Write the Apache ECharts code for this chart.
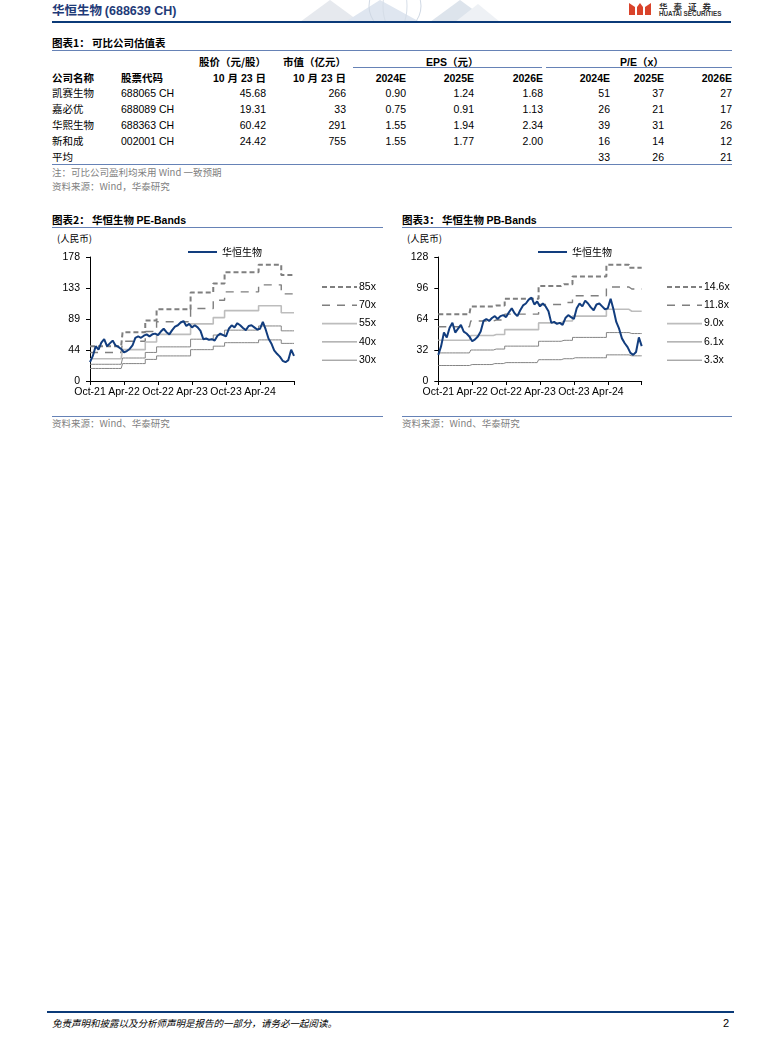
<!DOCTYPE html>
<html><head><meta charset="utf-8">
<script src="https://cdn.jsdelivr.net/npm/echarts@6/dist/echarts.min.js"></script>
<style>
html,body{margin:0;padding:0;background:#fff;}
#page{position:relative;width:784px;height:1060px;overflow:hidden;font-family:"Liberation Sans",Arial,"Noto Sans CJK SC",sans-serif;color:#000;}
.t{position:absolute;white-space:nowrap;line-height:14px;font-size:10.5px;}
.cn{font-family:"Noto Sans CJK SC","Liberation Sans",sans-serif;}
.b{font-weight:bold;}
.gray{color:#7f7f7f;}
.hl{position:absolute;background:#6682b6;height:1px;}
.chart{position:absolute;width:345px;height:185px;}
</style></head>
<body><div id="page">
<svg style="position:absolute;left:0;top:0" width="784" height="22">
  <polygon points="300,22 330,0 360,22" fill="#e6e9ee"/>
  <polygon points="345,22 380,0 420,22" fill="#dfe6f0"/>
  <circle cx="395" cy="6" r="26" fill="none" stroke="#cfd8e4" stroke-width="1"/>
  <ellipse cx="395" cy="6" rx="12" ry="26" fill="none" stroke="#d6dee8" stroke-width="1"/>
  <polygon points="430,22 460,0 490,22" fill="#dde4ec"/>
  <polygon points="455,22 478,4 500,22" fill="#eef1f5"/>
  <g fill="#d9432b">
    <polygon points="629,3 635,7 635,15 629,15"/>
    <polygon points="637,7 640,3 643,7 643,15 637,15"/>
    <polygon points="645,7 651,3 651,15 645,15"/>
  </g>
</svg>
<div class="t cn b" style="left:52px;top:3px;font-size:12.5px;color:#1f3b78;">华恒生物 <span style="font-family:'Liberation Sans',Arial">(688639 CH)</span></div>
<div class="t cn b" style="left:659px;top:1px;font-size:8.5px;line-height:10px;color:#333;letter-spacing:6px;">华泰证券</div>
<div class="t b" style="left:659px;top:11px;font-size:6.3px;line-height:6.5px;color:#333;">HUATAI SECURITIES</div>
<div style="position:absolute;left:52px;top:20.5px;width:679px;height:2.5px;background:#0b3a78;"></div>

<div id="table"></div>

<div class="t cn b" style="left:52px;top:213px;">图表2： 华恒生物 <span style="font-family:'Liberation Sans',Arial">PE-Bands</span></div>
<div class="hl" style="left:52px;top:227px;width:331px;"></div>
<div class="t cn" style="left:57px;top:231px;font-size:9.5px;">(人民币)</div>
<div id="c1" class="chart" style="left:45px;top:230px;"></div>
<div class="hl" style="left:52px;top:416px;width:331px;"></div>
<div class="t cn gray" style="left:52px;top:416px;font-size:9.5px;">资料来源：Wind、华泰研究</div>

<div class="t cn b" style="left:402px;top:213px;">图表3： 华恒生物 <span style="font-family:'Liberation Sans',Arial">PB-Bands</span></div>
<div class="hl" style="left:402px;top:227px;width:330px;"></div>
<div class="t cn" style="left:407px;top:231px;font-size:9.5px;">(人民币)</div>
<div id="c2" class="chart" style="left:395px;top:230px;"></div>
<div class="hl" style="left:402px;top:416px;width:330px;"></div>
<div class="t cn gray" style="left:402px;top:416px;font-size:9.5px;">资料来源：Wind、华泰研究</div>

<div style="position:absolute;left:47px;top:1010.5px;width:687px;height:2.5px;background:#0b3a78;"></div>
<div class="t cn" style="left:52px;top:1016px;font-size:9.5px;font-style:italic;">免责声明和披露以及分析师声明是报告的一部分，请务必一起阅读。</div>
<div class="t" style="left:723px;top:1016px;font-size:11px;">2</div>
</div>
<script>
// ---------- Table data ----------
const companies = ['凯赛生物','嘉必优','华熙生物','新和成'];
const codes = ['688065 CH','688089 CH','688363 CH','002001 CH'];
const prices = ['45.68','19.31','60.42','24.42'];
const mcaps = ['266','33','291','755'];
const eps2024 = ['0.90','0.75','1.55','1.55'];
const eps2025 = ['1.24','0.91','1.94','1.77'];
const eps2026 = ['1.68','1.13','2.34','2.00'];
const pe2024 = ['51','26','39','16'];
const pe2025 = ['37','21','31','14'];
const pe2026 = ['27','17','26','12'];
const peAvg = ['33','26','21'];

// ---------- Chart data (semi-monthly) ----------
const dates = ['2021-10-01','2021-10-15','2021-11-01','2021-11-15','2021-12-01','2021-12-15',
'2022-01-01','2022-01-15','2022-02-01','2022-02-15','2022-03-01','2022-03-15','2022-04-01','2022-04-15','2022-05-01','2022-05-15','2022-06-01','2022-06-15',
'2022-07-01','2022-07-15','2022-08-01','2022-08-15','2022-09-01','2022-09-15','2022-10-01','2022-10-15','2022-11-01','2022-11-15','2022-12-01','2022-12-15',
'2023-01-01','2023-01-15','2023-02-01','2023-02-15','2023-03-01','2023-03-15','2023-04-01','2023-04-15','2023-05-01','2023-05-15','2023-06-01','2023-06-15',
'2023-07-01','2023-07-15','2023-08-01','2023-08-15','2023-09-01','2023-09-15','2023-10-01','2023-10-15','2023-11-01','2023-11-15','2023-12-01','2023-12-15',
'2024-01-01','2024-01-15','2024-02-01','2024-02-15','2024-03-01','2024-03-15','2024-04-01','2024-04-15','2024-05-01','2024-05-15','2024-06-01','2024-06-15',
'2024-07-01','2024-07-15','2024-08-01','2024-08-15','2024-09-01','2024-09-15','2024-10-01'];
const xTickLabels = ['Oct-21','Apr-22','Oct-22','Apr-23','Oct-23','Apr-24'];
const priceName = '华恒生物';
const price = [27,36,50,45,55,60,50,54,58,51,49,46,41,43,46,51,62,64,62,65,67,64,67,68,66,71,75,70,67,73,78,80,84,86,79,82,77,80,77,72,60,61,59,60,58,65,68,66,64,75,80,77,83,80,76,73,79,80,77,74,75,85,74,61,54,44,39,35,29,27,30,45,36];

// PE bands: values per step, step start index
const peStepStart = [0,12,20,24,36,44,48,60,68];
const peNames = ['85x','70x','55x','40x','30x'];
const pe85 = [50,70,87,103,127,140,156,167,152];
const pe70 = [41,57,71,85,104,116,128,138,125];
const pe55 = [32,45,56,67,82,91,101,108,98];
const pe40 = [24,33,41,49,60,66,73,79,72];
const pe30 = [18,25,31,36,45,50,55,59,54];
const peYTicks = {max:178, interval:44.5};

// PB bands
const pbStepStart = [0,12,20,24,36,44,48,60,68];
const pbNames = ['14.6x','11.8x','9.0x','6.1x','3.3x'];
const pb146 = [69,77,78,85,98,100,108,120,117];
const pb118 = [56,62,63,69,79,81,88,97,95];
const pb90 = [42,47,48,53,60,62,67,74,72];
const pb61 = [29,32,33,36,41,42,45,50,49];
const pb33 = [16,17,18,19,22,23,24,27,26];
const pbYTicks = {max:128, interval:32};

// ---------- Build table ----------
(function(){
  const T = document.getElementById('table');
  function txt(s, x, yc, opts){
    opts = opts || {};
    const d = document.createElement('div');
    d.className = 't' + (opts.cls ? ' ' + opts.cls : '');
    d.textContent = s;
    d.style.top = (yc - 7) + 'px';
    if (opts.right) { d.style.right = (784 - x) + 'px'; } else { d.style.left = x + 'px'; }
    if (opts.size) d.style.fontSize = opts.size + 'px';
    T.appendChild(d);
  }
  function line(x, y, w, h){
    const d = document.createElement('div');
    d.className = 'hl'; d.style.left = x+'px'; d.style.top = y+'px'; d.style.width = w+'px';
    if (h) d.style.height = h + 'px';
    T.appendChild(d);
  }
  txt('图表1： 可比公司估值表', 52, 43, {cls:'cn b'});
  line(52, 50, 680, 1.3);
  txt('股价（元/股）', 266, 62.3, {cls:'cn b', right:true});
  txt('市值（亿元）', 346, 62.3, {cls:'cn b', right:true});
  txt('EPS（元）', 426, 62.3, {cls:'b'});
  txt('P/E（x）', 620, 62.3, {cls:'b'});
  line(353, 67, 189);
  line(546, 67, 186);
  const r2 = 78.3;
  txt('公司名称', 52, r2, {cls:'cn b'});
  txt('股票代码', 121, r2, {cls:'cn b'});
  txt('10 月 23 日', 266, r2, {cls:'b', right:true});
  txt('10 月 23 日', 346, r2, {cls:'b', right:true});
  const yrs = ['2024E','2025E','2026E'];
  const epsR = [406, 474, 543], peR = [610, 664, 732];
  yrs.forEach((y,i)=>{ txt(y, epsR[i], r2, {cls:'b', right:true}); txt(y, peR[i], r2, {cls:'b', right:true}); });
  const eps = [eps2024, eps2025, eps2026], pes = [pe2024, pe2025, pe2026];
  companies.forEach((c, k)=>{
    const yc = 93.3 + 16*k;
    txt(c, 52, yc, {cls:'cn'});
    txt(codes[k], 121, yc);
    txt(prices[k], 266, yc, {right:true});
    txt(mcaps[k], 346, yc, {right:true});
    for (let i=0;i<3;i++){ txt(eps[i][k], epsR[i], yc, {right:true}); txt(pes[i][k], peR[i], yc, {right:true}); }
  });
  txt('平均', 52, 157.3, {cls:'cn'});
  for (let i=0;i<3;i++) txt(peAvg[i], peR[i], 157.3, {right:true});
  line(52, 164, 680, 1.3);
  txt('注：可比公司盈利均采用 Wind 一致预期', 52, 172.3, {cls:'cn gray', size:9.5});
  txt('资料来源：Wind，华泰研究', 52, 185.7, {cls:'cn gray', size:9.5});
})();

// ---------- Charts ----------
function expand(starts, vals){
  const out = [];
  for (let i=0;i<dates.length;i++){
    let k = 0;
    while (k+1 < starts.length && starts[k+1] <= i) k++;
    out.push(vals[k]);
  }
  return out;
}
const bandStyles = [
  {color:'#7f7f7f', width:2, type:[5,3]},
  {color:'#7f7f7f', width:1.4, type:[8,7]},
  {color:'#bdbdbd', width:1.6, type:'solid'},
  {color:'#858585', width:1, type:'solid'},
  {color:'#858585', width:1, type:'solid'}
];
const FONT = "'Liberation Sans', Arial, sans-serif";
function bandLegend(names, lx){
  const g = [];
  names.forEach((n, k)=>{
    const y = 57 + 18.3*k;
    const st = bandStyles[k];
    g.push({type:'line', shape:{x1:lx, y1:y, x2:lx+35, y2:y}, silent:true,
      style:{stroke:st.color, lineWidth:st.width, lineDash: Array.isArray(st.type) ? st.type : null}});
    g.push({type:'text', x:lx+37, y:y, silent:true,
      style:{text:n, fill:'#000', font:"10.5px 'Liberation Sans', Arial, sans-serif", textVerticalAlign:'middle', verticalAlign:'middle'}});
  });
  return g;
}
function makeOption(cfg){
  const bands = cfg.bands.map((vals, k)=>({
    name: cfg.names[k], type:'line', data: expand(cfg.starts, vals), step:'middle',
    symbol:'none', silent:true, lineStyle: bandStyles[k], itemStyle:{color: bandStyles[k].color}, z:2
  }));
  return {
    animation:false,
    grid:{left:cfg.left, top:27, width:cfg.width, height:124},
    legend:{data:[{name:priceName, icon:'rect'}], left:cfg.legLeft, top:12, itemWidth:29, itemHeight:2,
       textStyle:{fontSize:10, color:'#000', fontFamily:"'Noto Sans CJK SC'"}},
    graphic: bandLegend(cfg.names, cfg.bandLegLeft),
    xAxis:{type:'category', data:dates, boundaryGap:false,
      axisLine:{lineStyle:{color:'#000', width:1}},
      axisTick:{interval:(i)=>i%12===0, length:4, lineStyle:{color:'#000'}},
      axisLabel:{interval:(i)=>i%12===0 && i<72, formatter:(v,i)=>xTickLabels[Math.round(i/12)],
        margin:6, fontSize:10.5, color:'#000', fontFamily:FONT}},
    yAxis:{type:'value', min:0, max:cfg.ticks.max, interval:cfg.ticks.interval,
      splitLine:{show:false},
      axisLine:{show:true, lineStyle:{color:'#000', width:1}},
      axisTick:{show:true, length:4, lineStyle:{color:'#000'}},
      axisLabel:{formatter:(v)=>String(Math.floor(v)), margin:10, fontSize:10.5, color:'#000', fontFamily:FONT}},
    series:[...bands, {name:priceName, type:'line', data:price, symbol:'none', z:5,
      lineStyle:{color:'#123d7e', width:2}, itemStyle:{color:'#123d7e'}}]
  };
}
const c1 = echarts.init(document.getElementById('c1'));
c1.setOption(makeOption({left:45, width:204, legLeft:138, bandLegLeft:277, starts:peStepStart,
  bands:[pe85,pe70,pe55,pe40,pe30], names:peNames, ticks:peYTicks}));
const c2 = echarts.init(document.getElementById('c2'));
c2.setOption(makeOption({left:43.3, width:203.4, legLeft:138, bandLegLeft:272, starts:pbStepStart,
  bands:[pb146,pb118,pb90,pb61,pb33], names:pbNames, ticks:pbYTicks}));
</script>
</body></html>
